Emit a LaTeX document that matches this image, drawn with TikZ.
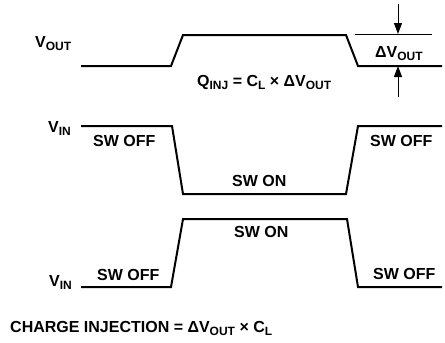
\documentclass[tikz,border=0pt]{standalone}
\usepackage{fontspec}
\setmainfont{Liberation Sans}
\usetikzlibrary{arrows.meta}
\newcommand{\lo}[1]{\raisebox{-0.2em}{\fontsize{12}{12}\selectfont #1}}

\begin{document}
\begin{tikzpicture}[x=1pt,y=-1pt,font=\fontsize{16}{18}\selectfont\bfseries,
  wave/.style={line width=2pt},
  lbl/.style={inner sep=0pt,anchor=base west}]
\useasboundingbox (0,0) rectangle (445,343);
% output
\node[lbl] (vout) at (35,47) {V\lo{OUT}};
\draw[wave] (81,66) -- (171,66) -- (183,35) -- (346,35) -- (358,66) coordinate (lowr) -- (442,66);
\node[lbl] (qinj) at (197,86) {Q\lo{INJ} = C\lo{L} × ΔV\lo{OUT}};
\draw[line width=1pt] (355,34) coordinate (hil) -- (432,34) coordinate (hir);
\node[lbl] (dv) at (375,57) {ΔV\lo{OUT}};
\coordinate (topa) at (398,4);
\coordinate (bota) at (398,97);
\draw[-{Triangle[length=11pt,width=8pt]},line width=1pt] (topa) -- (topa |- hil);
\draw[-{Triangle[length=11pt,width=8pt]},line width=1pt] (bota) -- (bota |- lowr);
% switch off / on
\node[lbl] (vin1) at (48,132) {V\lo{IN}};
\draw[wave] (81,126) -- (172,126) -- (183,194) -- (346,194) -- (358,126) -- (442,126);
\node[lbl] (off1) at (93,146) {SW OFF};
\node[lbl] (on1) at (232,186) {SW ON};
\node[lbl] (off2) at (370,146) {SW OFF};
% switch on / off
\node[lbl] (vin2) at (49,286) {V\lo{IN}};
\draw[wave] (81,287) -- (171,287) -- (183,219) -- (347,219) -- (358,287) -- (442,287);
\node[lbl] (off3) at (97,280) {SW OFF};
\node[lbl] (on2) at (234,237) {SW ON};
\node[lbl] (off4) at (373,279) {SW OFF};
\node[lbl] (charge) at (10,332) {CHARGE INJECTION = ΔV\lo{OUT} × C\lo{L}};
\end{tikzpicture}
\end{document}
